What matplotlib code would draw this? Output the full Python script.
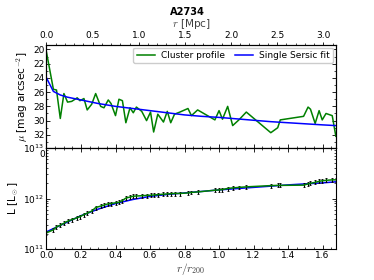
import matplotlib
matplotlib.use("Agg")
import matplotlib.pyplot as plt
import numpy as np
from matplotlib.ticker import AutoMinorLocator, MultipleLocator

plt.rcParams['font.family'] = ['DejaVu Sans']
plt.rcParams['mathtext.fontset'] = 'cm'
plt.rcParams['mathtext.default'] = 'it'

title = "A2734"
r200_mpc = 1.87
xmax = 1.677

# Surface-brightness profile (r/r200, mag arcsec^-2)
x_prof = [0.0, 0.04, 0.058, 0.08, 0.101, 0.122, 0.146, 0.178, 0.194, 0.217,
          0.236, 0.262, 0.285, 0.314, 0.333, 0.358, 0.374, 0.40, 0.42, 0.44,
          0.46, 0.484, 0.503, 0.521, 0.552, 0.58, 0.603, 0.621, 0.645, 0.678,
          0.70, 0.72, 0.742, 0.773, 0.82, 0.84, 0.876, 0.976, 1.00, 1.02,
          1.05, 1.079, 1.115, 1.158, 1.30, 1.34, 1.355, 1.49, 1.516, 1.53,
          1.557, 1.58, 1.598, 1.62, 1.656, 1.677]
mu_prof = [20.4, 25.6, 25.7, 29.7, 26.2, 27.4, 27.3, 26.8, 27.2, 26.9,
           28.5, 27.7, 26.2, 28.0, 28.2, 27.1, 27.6, 29.3, 27.0, 27.2,
           30.3, 28.2, 28.9, 28.1, 28.7, 30.0, 28.8, 31.6, 29.1, 30.2,
           28.7, 30.3, 29.1, 28.8, 28.3, 29.3, 28.5, 29.9, 28.6, 29.8,
           28.0, 30.7, 29.9, 28.8, 31.7, 31.0, 29.9, 29.4, 28.1, 28.4,
           30.4, 28.6, 29.9, 29.0, 29.3, 32.2]

# Single Sersic fit (surface brightness)
x_fit = [0.0, 0.04, 0.08, 0.12, 0.2, 0.3, 0.4, 0.5, 0.6, 0.7, 0.8, 0.9,
         1.0, 1.1, 1.2, 1.3, 1.4, 1.5, 1.6, 1.677]
mu_fit = [24.0, 25.9, 26.4, 26.7, 27.1, 27.6, 28.0, 28.3, 28.6, 28.9, 29.2,
          29.4, 29.55, 29.75, 29.95, 30.15, 30.3, 30.45, 30.6, 30.7]

# Cumulative luminosity (L_sun) at the profile radii
L_prof = [2.09e11, 2.40e11, 2.75e11, 2.95e11, 3.24e11, 3.55e11, 3.80e11, 4.17e11,
          4.37e11, 4.79e11, 5.13e11, 5.62e11, 6.61e11, 7.08e11, 7.41e11, 7.85e11,
          7.94e11, 8.22e11, 8.41e11, 9.12e11, 1.02e12, 1.07e12, 1.11e12, 1.12e12,
          1.135e12, 1.15e12, 1.16e12, 1.175e12, 1.19e12, 1.22e12, 1.23e12, 1.245e12,
          1.26e12, 1.26e12, 1.29e12, 1.32e12, 1.35e12, 1.46e12, 1.48e12, 1.51e12,
          1.58e12, 1.62e12, 1.66e12, 1.70e12, 1.80e12, 1.82e12, 1.82e12, 1.84e12,
          1.95e12, 2.00e12, 2.09e12, 2.19e12, 2.24e12, 2.29e12, 2.34e12, 2.34e12]
L_err_frac = 0.09

# Single Sersic fit (cumulative luminosity)
x_Lfit = [0.0, 0.05, 0.1, 0.2, 0.3, 0.4, 0.5, 0.6, 0.7, 0.8, 0.9, 1.0, 1.2,
          1.4, 1.6, 1.677]
L_fit = [2.19e11, 2.63e11, 3.16e11, 4.57e11, 6.17e11, 7.94e11, 9.55e11, 1.10e12,
         1.20e12, 1.29e12, 1.38e12, 1.48e12, 1.66e12, 1.86e12, 2.04e12, 2.14e12]

fs = 6.5
lfs = 7.6
fig = plt.figure(figsize=(3.74, 2.8), dpi=100)
left, right = 0.1243, 0.898
ax1 = fig.add_axes([left, 0.4714, right - left, 0.840 - 0.4714])
ax2 = fig.add_axes([left, 0.1107, right - left, 0.4714 - 0.1107], sharex=ax1)

# top panel
ax1.plot(x_prof, mu_prof, color='g', lw=1.1, label='Cluster profile')
ax1.plot(x_fit, mu_fit, color='b', lw=1.1, label='Single Sersic fit')
ax1.set_xlim(0, xmax)
ax1.set_ylim(33.85, 19.35)
ax1.yaxis.set_major_locator(MultipleLocator(2))
ax1.set_ylabel(r'$\mu$ [mag arcsec$^{-2}$]', fontsize=lfs, labelpad=2)
leg = ax1.legend(loc='upper right', ncol=2, fontsize=fs, handlelength=2.0,
                 borderpad=0.35, columnspacing=1.1, handletextpad=0.7,
                 framealpha=1, fancybox=True, borderaxespad=0.3)
plt.setp(ax1.get_xticklabels(), visible=False)

# bottom panel
ax2.plot(x_Lfit, L_fit, color='b', lw=1.1)
L_arr = np.array(L_prof)
ax2.errorbar(x_prof, L_prof, yerr=L_err_frac * L_arr, color='g', lw=1.1,
             ecolor='k', elinewidth=0.8, capsize=0.8, capthick=0.6)
ax2.set_yscale('log')
ax2.set_ylim(1e11, 1e13)
ax2.set_xlim(0, xmax)
ax2.xaxis.set_major_locator(MultipleLocator(0.2))
ax2.set_xlabel(r'$r/r_{200}$', fontsize=lfs + 0.6, labelpad=1, color='0.25')
ax2.set_ylabel(r'L [L$_\odot$]', fontsize=lfs, labelpad=2)

for ax in (ax1, ax2):
    ax.xaxis.set_minor_locator(AutoMinorLocator(4))
    if ax is ax1:
        ax.yaxis.set_minor_locator(AutoMinorLocator(2))
    ax.tick_params(which='both', direction='in', top=True, right=True,
                   labelsize=fs, pad=1.5)
    ax.tick_params(which='major', length=3, width=0.6)
    ax.tick_params(which='minor', length=1.5, width=0.5)
    for s in ax.spines.values():
        s.set_linewidth(0.8)

# top Mpc axis
axt = ax1.twiny()
axt.set_xlim(0, xmax * r200_mpc)
axt.xaxis.set_major_locator(MultipleLocator(0.5))
axt.xaxis.set_minor_locator(AutoMinorLocator(5))
axt.tick_params(which='both', direction='out', labelsize=fs, pad=1)
axt.tick_params(which='major', length=2.5, width=0.6)
axt.tick_params(which='minor', length=1.5, width=0.5)
axt.set_xlabel(r'$r$ [Mpc]', fontsize=lfs, labelpad=3, color='0.25')
fig.suptitle(title, fontsize=fs + 0.6, fontweight='bold', y=0.975)

fig.savefig('out.png', dpi=100)
